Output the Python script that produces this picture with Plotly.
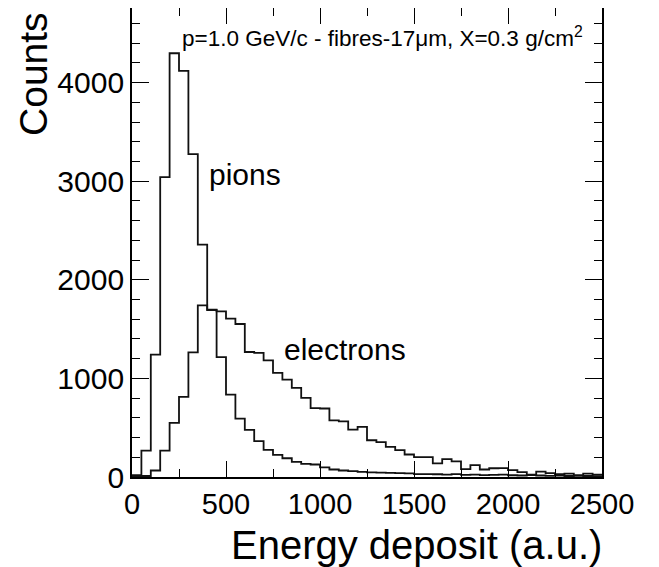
import plotly.graph_objects as go

# Bin edges: 50 bins of width 50 from 0 to 2500
bin_width = 50
n_bins = 50
bin_low = [i * bin_width for i in range(n_bins)]

pions = [20, 268, 1241, 3042, 4298, 4119, 3275, 2356, 1697, 1216,
         836, 593, 478, 363, 276, 225, 190, 154, 134, 127,
         98, 76, 66, 59, 51, 46, 44, 42, 40, 37,
         30, 30, 28, 25, 30, 22, 25, 20, 22, 25,
         18, 15, 20, 15, 12, 15, 10, 12, 10, 8]

electrons = [5, 10, 66, 268, 549, 813, 1264, 1740, 1692, 1680,
             1606, 1552, 1268, 1258, 1183, 1056, 988, 904, 802, 698,
             695, 575, 565, 481, 508, 373, 353, 306, 272, 228,
             201, 201, 139, 182, 158, 80, 120, 76, 89, 91,
             69, 49, 25, 55, 40, 30, 35, 20, 35, 25]

x_ticks = [0, 500, 1000, 1500, 2000, 2500]
y_ticks = [0, 1000, 2000, 3000, 4000]

FONT = "Liberation Sans, Arial, Helvetica, sans-serif"


def step_xy(values):
    xs = bin_low + [bin_low[-1] + bin_width]
    ys = list(values) + [values[-1]]
    return xs, ys


fig = go.Figure()
for vals in (pions, electrons):
    xs, ys = step_xy(vals)
    fig.add_trace(go.Scatter(x=xs, y=ys, mode="lines", line_shape="hv",
                             line=dict(color="#111111", width=1.8),
                             showlegend=False, hoverinfo="skip"))

fig.update_layout(
    width=651, height=559,
    margin=dict(l=124, r=57, t=0, b=89.5, autoexpand=False),
    paper_bgcolor="white", plot_bgcolor="white",
    font=dict(family=FONT, color="black", size=30),
    showlegend=False,
)

fig.update_xaxes(
    range=[0, 2500], tickvals=x_ticks, ticktext=[str(v) for v in x_ticks],
    ticks="inside", ticklen=16, tickwidth=1.2, tickcolor="black",
    minor=dict(ticks="inside", ticklen=8, dtick=250, tickwidth=1.2, tickcolor="black", showgrid=False),
    showline=True, linecolor="black", linewidth=1.8, mirror="allticks",
    showgrid=False, zeroline=False,
    tickfont=dict(size=29, family=FONT, color="black"),
)
fig.update_yaxes(
    range=[0, 4757], tickvals=y_ticks, ticktext=[str(v) for v in y_ticks],
    ticks="inside", ticklen=17, tickwidth=1.2, tickcolor="black",
    minor=dict(ticks="inside", ticklen=8.5, dtick=200, tickwidth=1.2, tickcolor="black", showgrid=False),
    showline=True, linecolor="black", linewidth=1.8, mirror="allticks",
    showgrid=False, zeroline=False,
    tickfont=dict(size=30, family=FONT, color="black"),
)

annotations = [
    dict(text="p=1.0 GeV/c - fibres-17\u03bcm, X=0.3 g/cm<sup>2</sup>", x=255, y=4463,
         xref="x", yref="y", xanchor="left", yanchor="middle", showarrow=False,
         font=dict(size=22.5, family=FONT, color="black")),
    dict(text="pions", x=400, y=3065, xref="x", yref="y", xanchor="left", yanchor="middle",
         showarrow=False, font=dict(size=30, family=FONT, color="black")),
    dict(text="electrons", x=798, y=1292, xref="x", yref="y", xanchor="left", yanchor="middle",
         showarrow=False, font=dict(size=30, family=FONT, color="black")),
    dict(text="Counts", x=-0.2085, y=0.8594, xref="paper", yref="paper", textangle=-90,
         xanchor="center", yanchor="middle", showarrow=False,
         font=dict(size=39, family=FONT, color="black")),
    dict(text="Energy deposit (a.u.)", x=1.004, y=-0.1459, xref="paper", yref="paper",
         xanchor="right", yanchor="middle", showarrow=False,
         font=dict(size=40, family=FONT, color="black")),
]
fig.update_layout(annotations=annotations)

fig.write_html("out.html")
